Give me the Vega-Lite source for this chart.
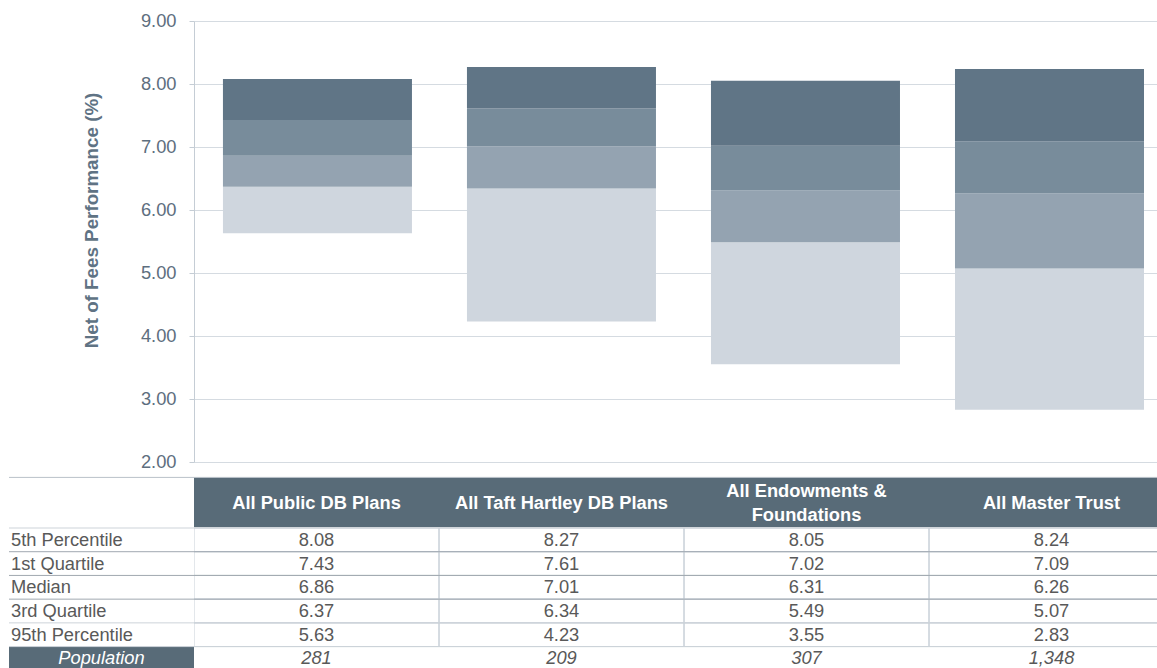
{
  "$schema": "https://vega.github.io/schema/vega-lite/v6.json",
  "padding": {"left": 8, "top": 11, "right": 0, "bottom": 0},
  "autosize": {"type": "pad"},
  "background": "white",
  "config": {"view": {"stroke": null}, "font": "Liberation Sans"},
  "datasets": {
    "plans": [
      {"group": "All Public DB Plans", "header": "All Public DB Plans", "lines": 1, "5th Percentile": 8.08, "1st Quartile": 7.43, "Median": 6.86, "3rd Quartile": 6.37, "95th Percentile": 5.63, "Population": 281},
      {"group": "All Taft Hartley DB Plans", "header": "All Taft Hartley DB Plans", "lines": 1, "5th Percentile": 8.27, "1st Quartile": 7.61, "Median": 7.01, "3rd Quartile": 6.34, "95th Percentile": 4.23, "Population": 209},
      {"group": "All Endowments & Foundations", "header": "All Endowments &\nFoundations", "lines": 2, "5th Percentile": 8.05, "1st Quartile": 7.02, "Median": 6.31, "3rd Quartile": 5.49, "95th Percentile": 3.55, "Population": 307},
      {"group": "All Master Trust", "header": "All Master Trust", "lines": 1, "5th Percentile": 8.24, "1st Quartile": 7.09, "Median": 6.26, "3rd Quartile": 5.07, "95th Percentile": 2.83, "Population": 1348}
    ],
    "rows": [
      {"row": "5th Percentile"}, {"row": "1st Quartile"}, {"row": "Median"},
      {"row": "3rd Quartile"}, {"row": "95th Percentile"}, {"row": "Population"}
    ]
  },
  "columns": 2,
  "align": "each",
  "bounds": "flush",
  "spacing": 0,
  "concat": [
    {
      "width": 185, "height": 441,
      "data": {"values": []},
      "mark": "point",
      "encoding": {}
    },
    {
      "width": 964, "height": 441,
      "data": {"name": "plans"},
      "encoding": {
        "x": {"field": "group", "type": "nominal",
              "scale": {"domain": ["All Public DB Plans", "All Taft Hartley DB Plans", "All Endowments & Foundations", "All Master Trust"], "paddingInner": 0.2254, "paddingOuter": 0.088, "align": 0.674},
              "axis": null}
      },
      "layer": [
        {"mark": {"type": "bar", "color": "#cfd6de"},
         "encoding": {
           "y": {"field": "95th Percentile", "type": "quantitative", "title": "Net of Fees Performance (%)",
                 "scale": {"domain": [2, 9], "nice": false, "zero": false},
                 "axis": {"values": [2, 3, 4, 5, 6, 7, 8, 9], "format": ".2f", "labelFontSize": 18.3, "labelColor": "#5d6e7e", "labelPadding": 13,
                          "tickSize": 5, "tickColor": "#c5cdd5", "domainColor": "#c5cdd5", "grid": true, "gridColor": "#d5dbe1",
                          "titleFontSize": 18.8, "titleFontWeight": "bold", "titleColor": "#5f7384", "titlePadding": 39, "titleY": 199}},
           "y2": {"field": "3rd Quartile"}}},
        {"mark": {"type": "bar", "color": "#94a3b1"},
         "encoding": {
           "y": {"field": "3rd Quartile", "type": "quantitative", "title": "Net of Fees Performance (%)", "scale": {"domain": [2, 9], "nice": false, "zero": false}},
           "y2": {"field": "Median"}}},
        {"mark": {"type": "bar", "color": "#788c9b"},
         "encoding": {
           "y": {"field": "Median", "type": "quantitative", "title": "Net of Fees Performance (%)", "scale": {"domain": [2, 9], "nice": false, "zero": false}},
           "y2": {"field": "1st Quartile"}}},
        {"mark": {"type": "bar", "color": "#607586"},
         "encoding": {
           "y": {"field": "1st Quartile", "type": "quantitative", "title": "Net of Fees Performance (%)", "scale": {"domain": [2, 9], "nice": false, "zero": false}},
           "y2": {"field": "5th Percentile"}}}
      ]
    },
    {
      "width": 185, "height": 65.4,
      "data": {"name": "plans"},
      "transform": [{"filter": "datum.group === 'All Public DB Plans'"}],
      "mark": {"type": "rule", "color": "#b9c1c9", "strokeWidth": 1},
      "encoding": {
        "y": {"datum": "header", "type": "nominal", "bandPosition": 0,
              "scale": {"domain": ["header"], "paddingInner": 0, "paddingOuter": 0.154, "align": 1}, "axis": null}
      }
    },
    {
      "width": 964, "height": 65.4,
      "data": {"name": "plans"},
      "layer": [
        {"mark": {"type": "rect", "color": "#586b78", "clip": true},
         "encoding": {
           "x": {"field": "group", "type": "nominal",
                 "scale": {"domain": ["All Public DB Plans", "All Taft Hartley DB Plans", "All Endowments & Foundations", "All Master Trust"], "range": [0, 980], "paddingInner": 0, "paddingOuter": 0},
                 "axis": null},
           "y": {"datum": "header", "type": "nominal",
                 "scale": {"domain": ["header"], "paddingInner": 0, "paddingOuter": 0.154, "align": 1}, "axis": null}}},
        {"transform": [{"filter": "datum.lines === 1"}],
         "mark": {"type": "text", "color": "white", "fontWeight": "bold", "fontSize": 18.3, "dy": 2},
         "encoding": {
           "x": {"field": "group", "type": "nominal"},
           "y": {"datum": "header", "type": "nominal"},
           "text": {"field": "header"}}},
        {"transform": [{"filter": "datum.lines === 2"}],
         "mark": {"type": "text", "color": "white", "fontWeight": "bold", "fontSize": 18.3, "lineBreak": "\n", "lineHeight": 24, "dy": -10},
         "encoding": {
           "x": {"field": "group", "type": "nominal"},
           "y": {"datum": "header", "type": "nominal"},
           "text": {"field": "header"}}},
        {"transform": [{"filter": "datum.group === 'All Public DB Plans'"}],
         "mark": {"type": "rule", "color": "#b9c1c9", "strokeWidth": 1},
         "encoding": {"y": {"datum": "header", "type": "nominal", "bandPosition": 0}}}
      ]
    },
    {
      "width": 185, "height": 140,
      "data": {"name": "rows"},
      "layer": [
        {"transform": [{"filter": "datum.row === 'Population'"}],
         "mark": {"type": "rect", "color": "#586b78", "clip": true},
         "encoding": {
           "x": {"datum": "label", "type": "nominal", "scale": {"domain": ["label"], "paddingInner": 0, "paddingOuter": 0}, "axis": null},
           "y": {"field": "row", "type": "nominal",
                 "scale": {"domain": ["5th Percentile", "1st Quartile", "Median", "3rd Quartile", "95th Percentile", "Population"], "range": [0, 142.3], "paddingInner": 0, "paddingOuter": 0},
                 "axis": null}}},
        {"mark": {"type": "rule", "strokeWidth": 1},
         "encoding": {
           "y": {"field": "row", "type": "nominal", "bandPosition": 0},
           "color": {"condition": {"test": "indexof(['1st Quartile','Median','3rd Quartile'], datum.row) >= 0", "value": "#a0a8b0"}, "value": "#cdd3d9"}}},
        {"transform": [{"filter": "datum.row !== 'Population'"}],
         "mark": {"type": "text", "align": "left", "dx": 2, "dy": 1, "fontSize": 18.3, "color": "#595959"},
         "encoding": {
           "x": {"datum": "label", "type": "nominal", "bandPosition": 0},
           "y": {"field": "row", "type": "nominal"},
           "text": {"field": "row"}}},
        {"transform": [{"filter": "datum.row === 'Population'"}],
         "mark": {"type": "text", "fontStyle": "italic", "fontSize": 18.3, "color": "white", "dy": 1},
         "encoding": {
           "x": {"datum": "label", "type": "nominal"},
           "y": {"field": "row", "type": "nominal"},
           "text": {"field": "row"}}}
      ]
    },
    {
      "width": 964, "height": 140,
      "data": {"name": "plans"},
      "transform": [{"fold": ["5th Percentile", "1st Quartile", "Median", "3rd Quartile", "95th Percentile", "Population"], "as": ["row", "value"]}],
      "layer": [
        {"transform": [{"filter": "datum.row !== 'Population'"}],
         "mark": {"type": "rect", "filled": false, "stroke": "#c8d0d8", "strokeWidth": 1, "clip": true},
         "encoding": {
           "x": {"field": "group", "type": "nominal",
                 "scale": {"domain": ["All Public DB Plans", "All Taft Hartley DB Plans", "All Endowments & Foundations", "All Master Trust"], "range": [0, 980], "paddingInner": 0, "paddingOuter": 0},
                 "axis": null},
           "y": {"field": "row", "type": "nominal",
                 "scale": {"domain": ["5th Percentile", "1st Quartile", "Median", "3rd Quartile", "95th Percentile", "Population"], "range": [0, 142.3], "paddingInner": 0, "paddingOuter": 0},
                 "axis": null}}},
        {"transform": [{"filter": "datum.group === 'All Public DB Plans'"}],
         "mark": {"type": "rule", "strokeWidth": 1},
         "encoding": {
           "y": {"field": "row", "type": "nominal", "bandPosition": 0},
           "color": {"condition": {"test": "indexof(['1st Quartile','Median','3rd Quartile'], datum.row) >= 0", "value": "#a0a8b0"}, "value": "#cdd3d9"}}},
        {"transform": [{"filter": "datum.row !== 'Population'"}],
         "mark": {"type": "text", "fontSize": 18.3, "color": "#595959", "dy": 1},
         "encoding": {
           "x": {"field": "group", "type": "nominal"},
           "y": {"field": "row", "type": "nominal"},
           "text": {"field": "value", "type": "quantitative", "format": ".2f"}}},
        {"transform": [{"filter": "datum.row === 'Population'"}],
         "mark": {"type": "text", "fontSize": 18.3, "fontStyle": "italic", "color": "#595959", "dy": 1},
         "encoding": {
           "x": {"field": "group", "type": "nominal"},
           "y": {"field": "row", "type": "nominal"},
           "text": {"field": "value", "type": "quantitative", "format": ","}}}
      ]
    }
  ]
}
